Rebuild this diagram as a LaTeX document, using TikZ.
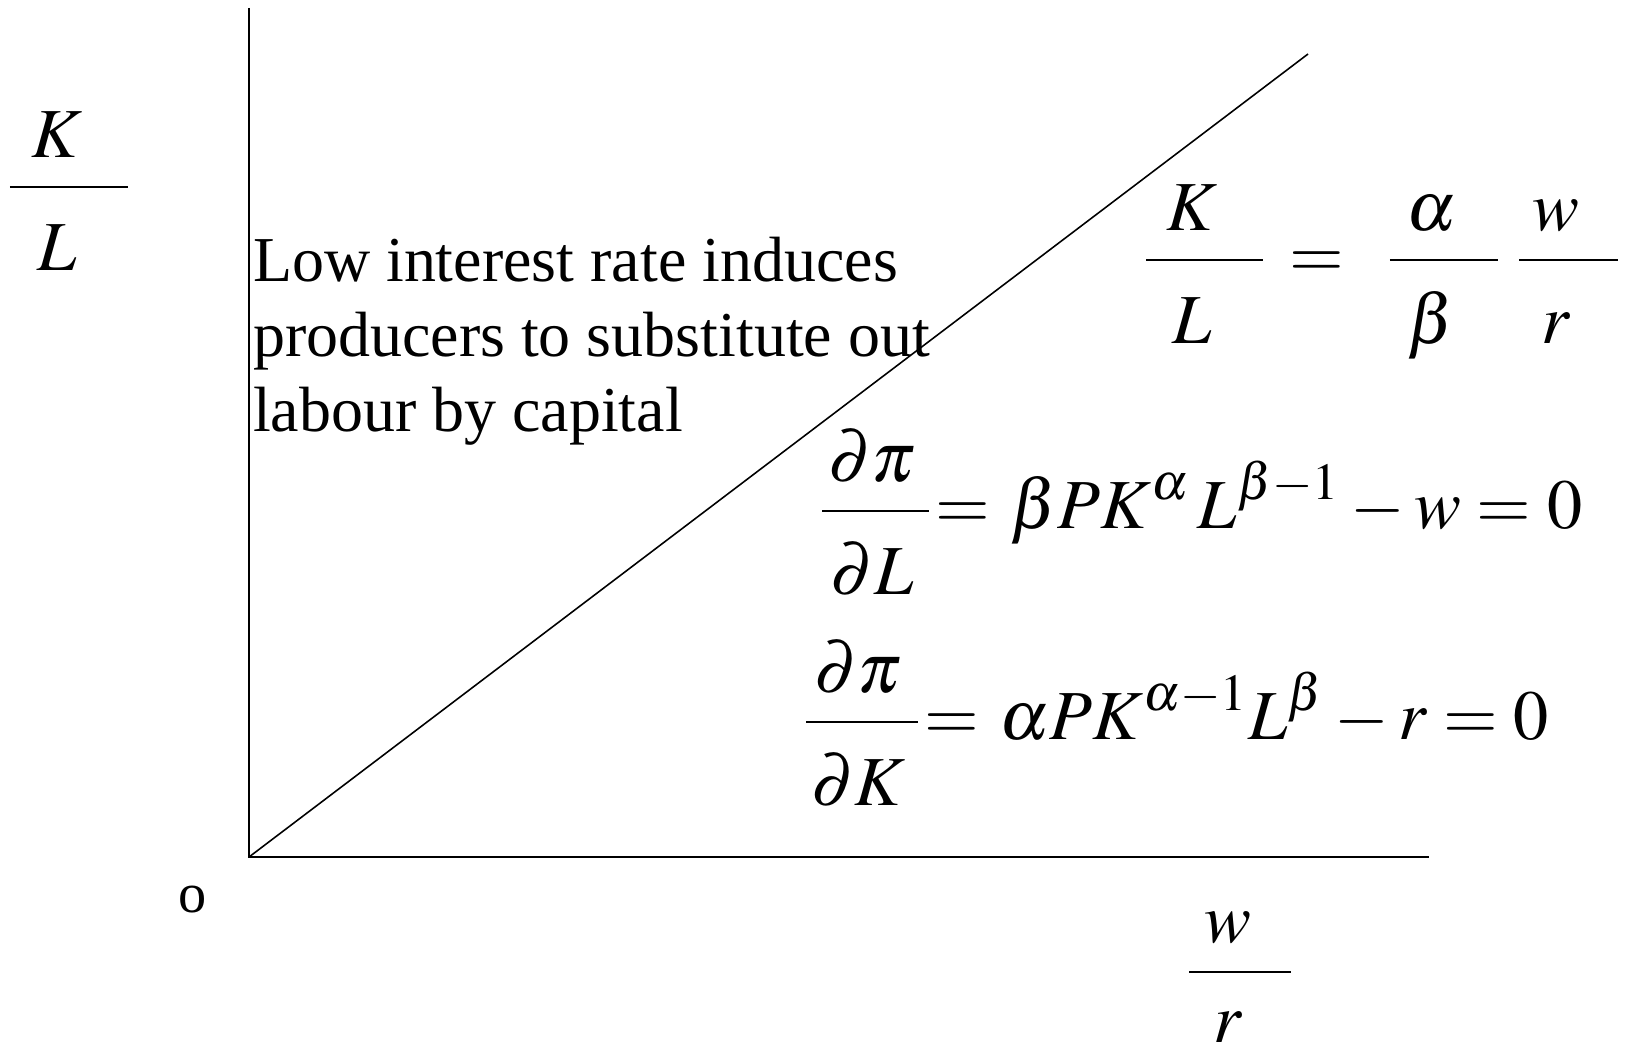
\documentclass[tikz,border=0pt]{standalone}
\usepackage{mathptmx}
\usepackage[no-math]{fontspec}
\setmainfont{Liberation Serif}
\nulldelimiterspace=0pt

% fraction with a bar of given width, roomy denominator, content a bit to the left
\newcommand{\denroom}{1.05em}
\newcommand{\wfrac}[4][0.35em]{\frac{\makebox[#2]{$#3$\hspace{#1}}}{\rule{0pt}{\denroom}\makebox[#2]{$#4$\hspace{#1}}}}

\tikzset{
  eqn/.style={inner sep=0pt,font=\fontsize{20}{24}\selectfont},
  note/.style={inner sep=0pt,align=left,font=\fontsize{18.2}{21.3}\selectfont},
}

\begin{document}
\begin{tikzpicture}[line width=0.6pt]
\useasboundingbox (-2.49,-1.96) rectangle (13.80,8.57);
% axes
\coordinate (O) at (0,0);
\coordinate (Ytop) at (0,8.49);
\coordinate (Xend) at (11.80,0);
\draw (Ytop) -- (O) -- (Xend);
% K/L ray rising with w/r
\coordinate (Rend) at (10.59,8.03);
\draw[line width=0.45pt] (O) -- (Rend);
% axis labels
\node[eqn,anchor=base] (ylab) at (-1.80,6.524) {$\displaystyle\wfrac{1.68em}{K}{L}$};
\node[eqn,anchor=base] (xlab) at (9.91,-1.326) {\renewcommand{\denroom}{0.86em}$\displaystyle\wfrac{1.44em}{w}{r}$};
\node[font=\fontsize{16}{19}\selectfont,inner sep=0pt] (orig) at (-0.56,-0.43) {o};
% explanation
\node[note,anchor=north west] (expl) at (0.03,6.21) {Low interest rate induces\\producers to substitute out\\labour by capital};
% optimal factor ratio
\node[eqn,anchor=base west] (ratio) at (8.96,5.794) {$\displaystyle\wfrac{1.66em}{K}{L}\hspace{0.38em}{=}\hspace{0.65em}\wfrac{1.54em}{\alpha}{\beta}\hspace{0.3em}\wfrac{1.41em}{w}{r}$};
% first order conditions
\node[eqn,anchor=base west] (focL) at (5.72,3.284) {$\displaystyle\wfrac[0.1em]{1.52em}{\partial\pi}{\partial L}\hspace{0.1em}{=}\hspace{0.28em}\beta PK^{\alpha}\,L^{\beta-1}-w=0$};
\node[eqn,anchor=base west] (focK) at (5.56,1.174) {$\displaystyle\wfrac[0.1em]{1.59em}{\partial\pi}{\partial K}\hspace{0.1em}{=}\hspace{0.28em}\alpha PK^{\alpha-1}L^{\beta}-r=0$};
\end{tikzpicture}
\end{document}
